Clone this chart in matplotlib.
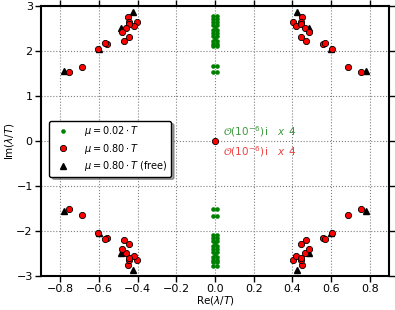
import matplotlib.pyplot as plt

# eigenvalues, mu = 0.02 T (green, pairs close to the imaginary axis)
green_re = [-0.012, 0.012, -0.012, 0.012, -0.012, 0.012, -0.012, 0.012, -0.012, 0.012,
            -0.012, 0.012, -0.012, 0.012, -0.012, 0.012, -0.012, 0.012, -0.012, 0.012,
            -0.012, 0.012, -0.012, 0.012, 0.0, 0.0,
            -0.012, 0.012, -0.012, 0.012, -0.012, 0.012, -0.012, 0.012, -0.012, 0.012,
            -0.012, 0.012, -0.012, 0.012, -0.012, 0.012, -0.012, 0.012, -0.012, 0.012,
            -0.012, 0.012, -0.012, 0.012, 0.0, 0.0]
green_im = [1.52, 1.52, 1.67, 1.67, 2.10, 2.10, 2.16, 2.16, 2.22, 2.22,
            2.34, 2.34, 2.40, 2.40, 2.47, 2.47, 2.58, 2.58, 2.64, 2.64,
            2.70, 2.70, 2.78, 2.78, 2.28, 2.52,
            -1.52, -1.52, -1.67, -1.67, -2.10, -2.10, -2.16, -2.16, -2.22, -2.22,
            -2.34, -2.34, -2.40, -2.40, -2.47, -2.47, -2.58, -2.58, -2.64, -2.64,
            -2.70, -2.70, -2.78, -2.78, -2.28, -2.52]

# eigenvalues, mu = 0.80 T (red)
red_re = [0.0,
          0.403, 0.451, 0.443, 0.420, 0.443, 0.463, 0.484, 0.446, 0.472, 0.560, 0.571, 0.605, 0.687, 0.754,
          -0.403, -0.451, -0.443, -0.420, -0.443, -0.463, -0.484, -0.446, -0.472, -0.560, -0.571, -0.605, -0.687, -0.754,
          0.403, 0.451, 0.443, 0.420, 0.443, 0.463, 0.484, 0.446, 0.472, 0.560, 0.571, 0.605, 0.687, 0.754,
          -0.403, -0.451, -0.443, -0.420, -0.443, -0.463, -0.484, -0.446, -0.472, -0.560, -0.571, -0.605, -0.687, -0.754]
red_im = [0.0,
          2.65, 2.75, 2.65, 2.56, 2.60, 2.50, 2.41, 2.30, 2.21, 2.15, 2.18, 2.04, 1.65, 1.52,
          2.65, 2.75, 2.65, 2.56, 2.60, 2.50, 2.41, 2.30, 2.21, 2.15, 2.18, 2.04, 1.65, 1.52,
          -2.65, -2.75, -2.65, -2.56, -2.60, -2.50, -2.41, -2.30, -2.21, -2.15, -2.18, -2.04, -1.65, -1.52,
          -2.65, -2.75, -2.65, -2.56, -2.60, -2.50, -2.41, -2.30, -2.21, -2.15, -2.18, -2.04, -1.65, -1.52]

# eigenvalues, mu = 0.80 T free (black triangles)
free_re = [0.425, 0.485, 0.600, 0.780, -0.425, -0.485, -0.600, -0.780,
           0.425, 0.485, 0.600, 0.780, -0.425, -0.485, -0.600, -0.780]
free_im = [2.86, 2.50, 2.04, 1.56, 2.86, 2.50, 2.04, 1.56,
           -2.86, -2.50, -2.04, -1.56, -2.86, -2.50, -2.04, -1.56]

xticks = [-0.8, -0.6, -0.4, -0.2, 0.0, 0.2, 0.4, 0.6, 0.8]
yticks = [-3, -2, -1, 0, 1, 2, 3]

fig = plt.figure(figsize=(3.95, 3.1), dpi=100)
ax = fig.add_axes([0.104, 0.11, 0.881, 0.871])

ax.plot(green_re, green_im, 'o', color='green', markersize=3.3, markeredgewidth=0,
        label=r'$\mu = 0.02 \cdot T$', zorder=3)
ax.plot(red_re, red_im, 'o', color='red', markeredgecolor='black', markersize=4.5,
        markeredgewidth=0.6, label=r'$\mu = 0.80 \cdot T$', zorder=4)
ax.plot(free_re, free_im, '^', color='black', markersize=5,
        label=r'$\mu = 0.80 \cdot T$ (free)', zorder=3)

ax.text(0.043, 0.2, r'$\mathcal{O}(10^{-6})\,\mathrm{i}\quad x\ \,4$', color='#3c9a3c',
        fontsize=7.5, va='center')
ax.text(0.043, -0.24, r'$\mathcal{O}(10^{-6})\,\mathrm{i}\quad x\ \,4$', color='#f04040',
        fontsize=7.5, va='center')

ax.set_xlim(-0.9, 0.9)
ax.set_ylim(-3, 3)
ax.set_xticks(xticks)
ax.set_yticks(yticks)
ax.grid(True, linestyle=':', color='gray', linewidth=0.8)
ax.set_axisbelow(True)
ax.tick_params(direction='out', length=4, width=1, top=True, right=True,
               labelsize=8, pad=2)
for s in ax.spines.values():
    s.set_linewidth(1.5)

ax.set_xlabel(r'Re($\lambda/T$)', fontsize=7.5, labelpad=0)
ax.set_ylabel(r'Im($\lambda/T$)', fontsize=7.5, labelpad=0)

leg = ax.legend(loc='upper left', bbox_to_anchor=(0.01, 0.592), numpoints=1,
                fontsize=7, shadow=True, fancybox=True, handletextpad=1.2,
                borderpad=0.35, labelspacing=0.35)
leg.get_frame().set_edgecolor('black')

fig.savefig('out.png', dpi=100)
